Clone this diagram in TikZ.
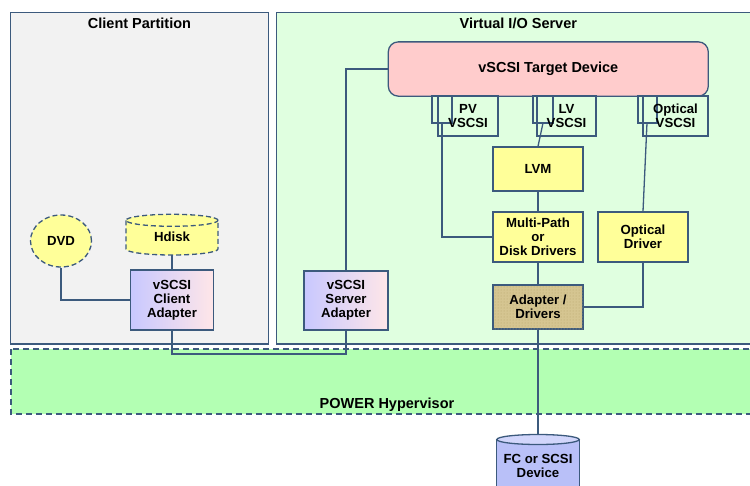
\documentclass[tikz,border=0pt]{standalone}
\usepackage{fontspec}
\setmainfont{Liberation Sans}
\usetikzlibrary{shapes.geometric,patterns}
\definecolor{lc}{HTML}{3C5A7D}
\definecolor{cpfill}{HTML}{F2F2F2}
\definecolor{viofill}{HTML}{E0FFE0}
\definecolor{hypfill}{HTML}{B3FFB3}
\definecolor{tgtfill}{HTML}{FFCCCC}
\definecolor{yel}{HTML}{FFFF99}
\definecolor{tanfill}{HTML}{D5C591}
\definecolor{tandot}{HTML}{B8A46C}
\definecolor{gradl}{HTML}{C8C8FF}
\definecolor{gradr}{HTML}{FFE6E8}
\definecolor{fcfill}{HTML}{B9C0F8}
\definecolor{fctop}{HTML}{D2D6FB}
\tikzset{
  lab/.style={font=\fontsize{13.2}{14}\selectfont\bfseries, align=center},
  ttl/.style={font=\fontsize{14.5}{16}\selectfont\bfseries, anchor=base},
  boxy/.style={draw=lc, line width=1.3pt, fill=yel, inner sep=0pt, lab},
  grad/.style={draw=lc, line width=1.3pt, left color=gradl, right color=gradr, inner sep=0pt, lab},
  thin/.style={draw=lc, line width=1.3pt, inner sep=0pt},
  conn/.style={draw=lc, line width=1.3pt},
  dsh/.style={dash pattern=on 5pt off 3pt},
}
\begin{document}
\begin{tikzpicture}[x=1pt,y=-1pt]
\useasboundingbox (0,0) rectangle (750,485);
\clip (0,0) rectangle (750,485);
% frames
\draw[lc, line width=1.3pt, fill=cpfill] (10.7,12.3) rectangle (268.3,344);
\draw[lc, line width=1.3pt, fill=viofill] (276.7,12.3) rectangle (770,344);
\draw[lc, line width=1.3pt, fill=hypfill, dash pattern=on 6pt off 4pt] (11,349) rectangle (770,414);
\node[ttl] (cpt) at (139.5,28.3) {Client Partition};
\node[ttl] (viot) at (518.3,28.3) {Virtual I/O Server};
\node[ttl] (hypt) at (387,408.3) {POWER Hypervisor};

% VIO server boxes
\node[draw=lc, line width=1.3pt, fill=tgtfill, rounded corners=10pt, minimum width=320pt, minimum height=54.3pt, lab, inner sep=0pt] (target) at (548.3,69) {\fontsize{14.5}{16}\selectfont vSCSI Target Device};
\node[thin, minimum width=20pt, minimum height=27pt] (pvb) at (442,109.5) {};
\node[thin, minimum width=60pt, minimum height=40pt, lab] (pv) at (468,116) {PV\\VSCSI};
\node[thin, minimum width=20pt, minimum height=27pt] (lvb) at (543,109.5) {};
\node[thin, minimum width=59pt, minimum height=40pt, lab] (lv) at (566.5,116) {LV\\VSCSI};
\node[thin, minimum width=19pt, minimum height=27pt] (opb) at (647.5,109.5) {};
\node[thin, minimum width=65pt, minimum height=40pt, lab] (op) at (675.5,116) {Optical\\VSCSI};

\node[boxy, minimum width=90pt, minimum height=44pt] (lvm) at (538,169) {LVM};
\node[boxy, minimum width=90pt, minimum height=50pt] (mp) at (538,237) {Multi-Path\\or\\Disk Drivers};
\node[boxy, minimum width=90pt, minimum height=50pt] (od) at (643,237) {Optical\\Driver};
\node[draw=lc, line width=1.3pt, fill=tanfill, postaction={pattern=dots, pattern color=tandot}, minimum width=90pt, minimum height=44pt, inner sep=0pt, lab] (ad) at (538,307) {Adapter /\\Drivers};
\node[grad, minimum width=84pt, minimum height=59pt] (sa) at (346,300.5) {vSCSI\\Server\\Adapter};

% client boxes
\node[grad, minimum width=83pt, minimum height=60pt] (ca) at (172,300) {vSCSI\\Client\\Adapter};
\node[ellipse, draw=lc, line width=1.3pt, dsh, fill=yel, minimum width=61pt, minimum height=52pt, inner sep=0pt, lab] (dvd) at (61,241) {DVD};
\fill[yel] (126,220.3) -- (126,249) arc[start angle=180, end angle=360, x radius=46pt, y radius=6pt] -- (218,220.3) arc[start angle=0, end angle=180, x radius=46pt, y radius=6pt] -- cycle;
\draw[lc, line width=1.3pt, dsh] (126,220.3) -- (126,249) arc[start angle=180, end angle=360, x radius=46pt, y radius=6pt] -- (218,220.3);
\draw[lc, line width=1.3pt, dsh] (172,220.3) ellipse [x radius=46pt, y radius=6pt];
\node[lab] (hdisk) at (172,237) {Hdisk};
\coordinate (hdiskb) at (172,255);

% FC device
\fill[fcfill] (496.8,439.5) -- (496.8,500) -- (579.2,500) -- (579.2,439.5) -- cycle;
\draw[lc, line width=1.3pt] (496.8,500) -- (496.8,439.5);
\draw[lc, line width=1.3pt] (579.2,500) -- (579.2,439.5);
\draw[lc, line width=1.3pt, fill=fctop] (538,439.5) ellipse [x radius=41.2pt, y radius=5pt];
\node[lab] (fc) at (538,465.5) {FC or SCSI\\Device};
\coordinate (fct) at (538,434.5);

% connectors
\coordinate (pvd) at (442,123);
\coordinate (lvd) at (543,123);
\coordinate (opd) at (647,123);
\coordinate (busl) at (172,354);
\coordinate (busr) at (346,354);
\draw[conn] (pvd) |- (mp.west);
\draw[conn] (lvd) -- (lvm.north);
\draw[conn] (opd) -- (od.north);
\draw[conn] (lvm) -- (mp);
\draw[conn] (mp) -- (ad);
\draw[conn] (od.south) |- (ad.east);
\draw[conn] (ad.south) -- (fct);
\draw[conn] (target.west) -| (sa.north);
\draw[conn] (sa.south) -- (busr) -- (busl) -- (ca.south);
\draw[conn] (dvd.south) |- (ca.west);
\draw[conn] (hdiskb) -- (ca.north);
\end{tikzpicture}
\end{document}
